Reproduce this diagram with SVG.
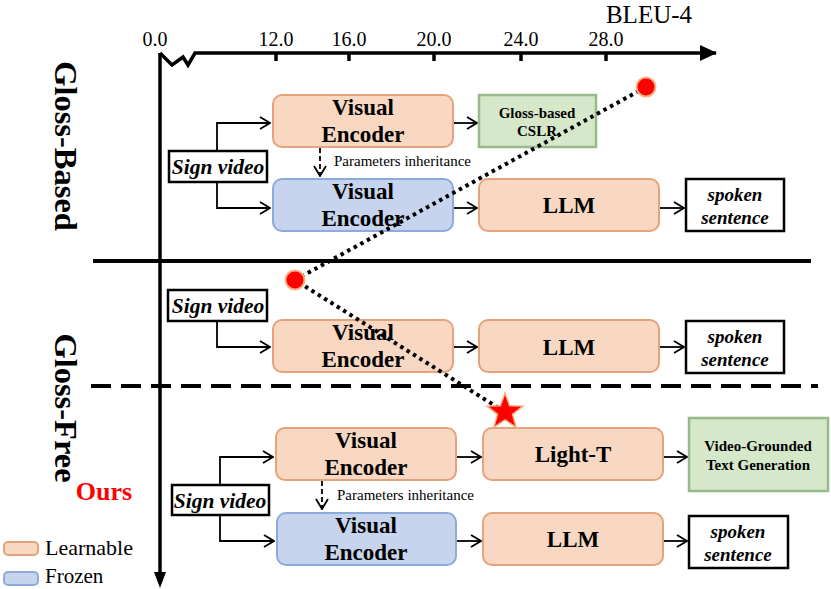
<svg xmlns="http://www.w3.org/2000/svg" width="831" height="589" viewBox="0 0 831 589" font-family="'Liberation Serif', 'Times New Roman', serif">
<defs>
<style>
text{font-family:"Liberation Serif","Times New Roman",serif;fill:#000}
.or{fill:#f8d8c2;stroke:#e6a27a;stroke-width:2}
.bl{fill:#c6d4ee;stroke:#8eaadb;stroke-width:2}
.gr{fill:#d5e8ca;stroke:#98b98b;stroke-width:2.5}
.wb{fill:#fff;stroke:#000;stroke-width:2.5}
.nt{font-size:23px;font-weight:bold;text-anchor:middle}
.bt{font-size:23px;font-weight:bold;text-anchor:middle}
.it{font-size:19px;font-weight:bold;font-style:italic;text-anchor:middle}
.sv{font-size:21.5px;font-weight:bold;font-style:italic;text-anchor:middle}
.st{font-size:15px;font-weight:bold;text-anchor:middle}
.pi{font-size:15px}
.tk{font-size:20px;text-anchor:middle}
.ln{fill:none;stroke:#000;stroke-width:1.8}
.ax{fill:none;stroke:#000;stroke-width:3.5}
</style>
<marker id="oa" markerWidth="12" markerHeight="14" refX="11" refY="7" orient="auto" markerUnits="userSpaceOnUse">
<path d="M1,1 L11,7 L1,13" fill="none" stroke="#000" stroke-width="1.8"/>
</marker>
<marker id="ta" markerWidth="18" markerHeight="16" refX="16" refY="8" orient="auto" markerUnits="userSpaceOnUse">
<path d="M0,0 L17,8 L0,16 Z" fill="#000"/>
</marker>
</defs>

<g id="axes">
<path class="ax" d="M160,53 L172,65 L183,57 L188,65 L195,53 L716,53" marker-end="url(#ta)"/>
<path class="ax" d="M160,53 L160,574"/>
<path d="M154,572 L166,572 L160,588 Z" fill="#000"/>
<path class="ax" d="M276,53 V61 M349,53 V61 M434,53 V61 M521,53 V61 M606,53 V61" stroke-width="3"/>
<text class="tk" x="155" y="46">0.0</text>
<text class="tk" x="276" y="46">12.0</text>
<text class="tk" x="349" y="46">16.0</text>
<text class="tk" x="434" y="46">20.0</text>
<text class="tk" x="521" y="46">24.0</text>
<text class="tk" x="606" y="46">28.0</text>
<text x="649" y="23" font-size="25" text-anchor="middle">BLEU-4</text>
</g>

<g id="separators">
<path d="M93,261 H811" stroke="#000" stroke-width="4"/>
<path d="M91,386 H818" stroke="#000" stroke-width="4" stroke-dasharray="20,10"/>
</g>

<g id="section-labels">
<text transform="translate(55,146) rotate(90)" font-size="32.5" font-weight="bold" text-anchor="middle">Gloss-Based</text>
<text transform="translate(55,408) rotate(90)" font-size="32.5" font-weight="bold" text-anchor="middle">Gloss-Free</text>
<text x="104" y="500" font-size="26" font-weight="bold" style="fill:#ff0000" text-anchor="middle">Ours</text>
</g>

<g id="connectors">
<path class="ln" d="M217,151 V123 H270" marker-end="url(#oa)"/>
<path class="ln" d="M217,182 V208 H270" marker-end="url(#oa)"/>
<path class="ln" d="M453,123 H477" marker-end="url(#oa)"/>
<path class="ln" d="M453,208 H477" marker-end="url(#oa)"/>
<path class="ln" d="M659,208 H684" marker-end="url(#oa)"/>
<path class="ln" d="M320,148 V176" stroke-dasharray="5,3" marker-end="url(#oa)"/>
<path class="ln" d="M217,321 V347 H270" marker-end="url(#oa)"/>
<path class="ln" d="M453,347 H477" marker-end="url(#oa)"/>
<path class="ln" d="M659,347 H684" marker-end="url(#oa)"/>
<path class="ln" d="M220,485 V457 H273" marker-end="url(#oa)"/>
<path class="ln" d="M220,515 V541 H274" marker-end="url(#oa)"/>
<path class="ln" d="M456,457 H481" marker-end="url(#oa)"/>
<path class="ln" d="M663,457 H687" marker-end="url(#oa)"/>
<path class="ln" d="M456,541 H481" marker-end="url(#oa)"/>
<path class="ln" d="M663,541 H687" marker-end="url(#oa)"/>
<path class="ln" d="M322,481 V509" stroke-dasharray="5,3" marker-end="url(#oa)"/>
</g>

<g id="gb-ve1"><rect class="or" x="273" y="95" width="180" height="52" rx="9"/><text class="nt" x="363" y="115">Visual</text><text class="nt" x="363" y="142">Encoder</text></g>
<g id="gb-cslr"><rect class="gr" x="479" y="95" width="117" height="52"/><text class="st" x="537" y="118">Gloss-based</text><text class="st" x="537" y="136">CSLR</text></g>
<g id="gb-sign"><rect class="wb" x="169" y="151" width="98" height="31"/><text class="sv" x="218" y="174">Sign video</text></g>
<g id="gb-param"><text class="pi" x="334" y="166">Parameters inheritance</text></g>
<g id="gb-ve2"><rect class="bl" x="273" y="179" width="180" height="52" rx="9"/><text class="nt" x="363" y="199">Visual</text><text class="nt" x="363" y="226">Encoder</text></g>
<g id="gb-llm"><rect class="or" x="479" y="179" width="180" height="52" rx="9"/><text class="bt" x="569" y="213">LLM</text></g>
<g id="gb-spoken"><rect class="wb" x="686" y="179" width="98" height="52"/><text class="it" x="735" y="201">spoken</text><text class="it" x="735" y="224">sentence</text></g>

<g id="gf-sign"><rect class="wb" x="168" y="290" width="99" height="31"/><text class="sv" x="218" y="313">Sign video</text></g>
<g id="gf-ve"><rect class="or" x="273" y="320" width="180" height="52" rx="9"/><text class="nt" x="363" y="340">Visual</text><text class="nt" x="363" y="367">Encoder</text></g>
<g id="gf-llm"><rect class="or" x="479" y="320" width="180" height="52" rx="9"/><text class="bt" x="569" y="355">LLM</text></g>
<g id="gf-spoken"><rect class="wb" x="686" y="321" width="98" height="52"/><text class="it" x="735" y="343">spoken</text><text class="it" x="735" y="366">sentence</text></g>

<g id="ours-ve1"><rect class="or" x="276" y="428" width="180" height="52" rx="9"/><text class="nt" x="366" y="448">Visual</text><text class="nt" x="366" y="475">Encoder</text></g>
<g id="ours-lightt"><rect class="or" x="483" y="428" width="180" height="52" rx="9"/><text class="bt" x="573" y="462">Light-T</text></g>
<g id="ours-vgtg"><rect class="gr" x="689" y="418" width="139" height="73"/><text class="st" x="758" y="451">Video-Grounded</text><text class="st" x="758" y="470">Text Generation</text></g>
<g id="ours-sign"><rect class="wb" x="172" y="485" width="97" height="30"/><text class="sv" x="220" y="508">Sign video</text></g>
<g id="ours-param"><text class="pi" x="337" y="500">Parameters inheritance</text></g>
<g id="ours-ve2"><rect class="bl" x="277" y="513" width="179" height="52" rx="9"/><text class="nt" x="366" y="533">Visual</text><text class="nt" x="366" y="560">Encoder</text></g>
<g id="ours-llm"><rect class="or" x="483" y="513" width="180" height="52" rx="9"/><text class="bt" x="573" y="547">LLM</text></g>
<g id="ours-spoken"><rect class="wb" x="689" y="516" width="99" height="52"/><text class="it" x="738" y="538">spoken</text><text class="it" x="738" y="561">sentence</text></g>

<g id="trend">
<path d="M646,87 L295,280 L505,412" fill="none" stroke="#000" stroke-width="4" stroke-dasharray="3.5,4"/>
<circle cx="646" cy="87" r="9.5" fill="#ff0000" stroke="#f4b183" stroke-width="2"/>
<circle cx="295" cy="280" r="9.5" fill="#ff0000" stroke="#f4b183" stroke-width="2"/>
<path d="M505,393 L509.6,405.7 L523,406.1 L512.5,414.4 L516.2,427.3 L505,419.8 L493.8,427.3 L497.5,414.4 L487,406.1 L500.4,405.7 Z" fill="#ff0000" stroke="#f4b183" stroke-width="1.5"/>
</g>

<g id="legend">
<rect x="4" y="542" width="34" height="13" rx="4" class="or"/>
<text x="45" y="555" font-size="22">Learnable</text>
<rect x="4" y="572" width="34" height="13" rx="4" class="bl"/>
<text x="45" y="583" font-size="21">Frozen</text>
</g>
</svg>
